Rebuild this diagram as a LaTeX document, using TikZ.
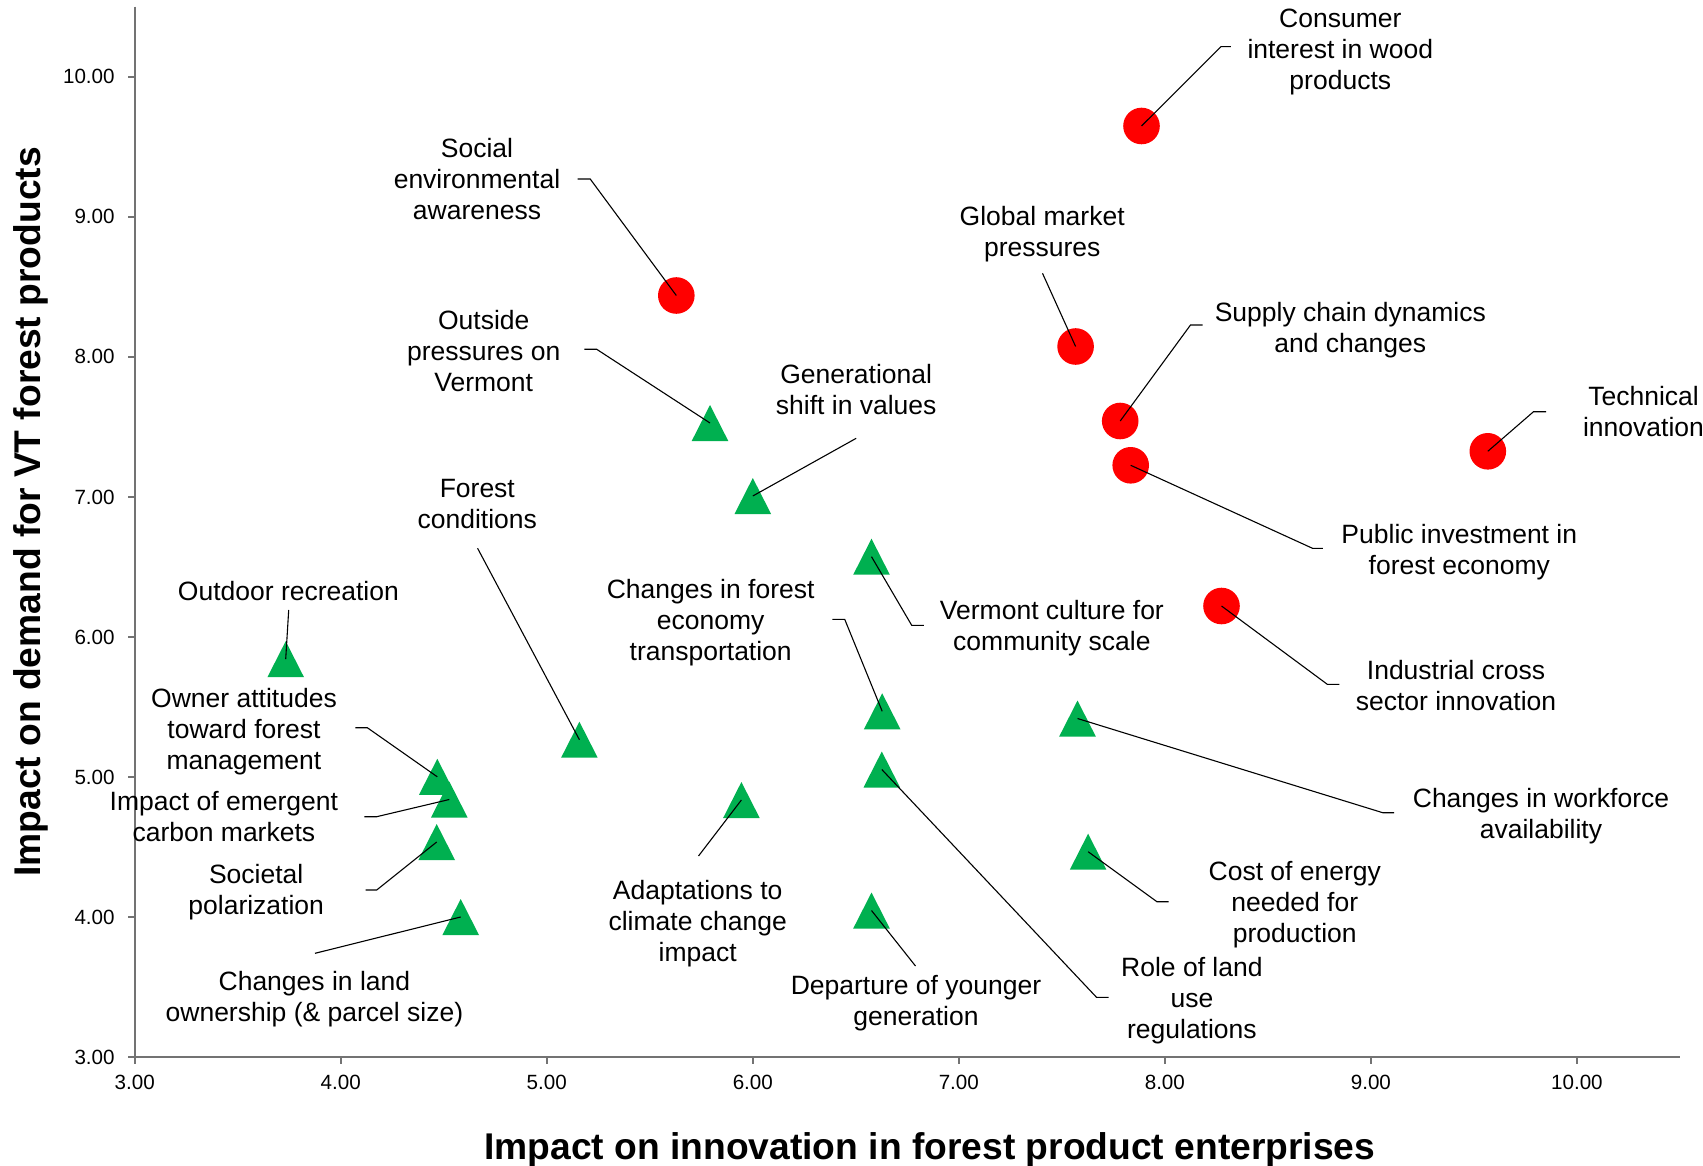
\documentclass[tikz,border=0pt]{standalone}
\usepackage{fontspec}
\setmainfont{Liberation Sans}
\definecolor{tred}{RGB}{255,0,0}
\definecolor{tgreen}{RGB}{0,176,80}
\newcommand\lbl[1]{\begin{tabular}[t]{@{}c@{}}#1\end{tabular}}
\newcommand\redpt[3]{\coordinate (#1) at (#2,#3); \fill[tred] (#1) circle[radius=18.3];}
\newcommand\grnpt[3]{\coordinate (#1) at (#2,#3); \fill[tgreen, shift={(#1)}] (0,-18) -- (-18.3,18) -- (18.3,18) -- cycle;}
\begin{document}
\begin{tikzpicture}[x=0.5pt,y=-0.5pt,
  leader/.style={draw=black, line width=0.55pt},
  axisline/.style={draw=black!55, line width=0.9pt},
  lab/.style={anchor=base, inner sep=0pt, yshift=-0.75pt, font=\fontsize{13.25}{15.5}\selectfont},
  ytick/.style={anchor=east, inner sep=0pt, font=\fontsize{10.3}{12}\selectfont},
  xtick/.style={anchor=base, inner sep=0pt, font=\fontsize{10.3}{12}\selectfont},
  atitle/.style={anchor=base, inner sep=0pt, font=\bfseries\fontsize{18.6}{22}\selectfont}]
\useasboundingbox (0,0) rectangle (1703,1166);
\fill[white] (0,0) rectangle (1703,1166);
% axes
\coordinate (ytop) at (134.7,6.7);
\coordinate (orig) at (134.7,1057.3);
\coordinate (xend) at (1679.6,1057.3);
\draw[axisline] (ytop) -- (orig) -- (xend);
\foreach \v in {3,...,10} {
  \pgfmathsetmacro\yy{1057.3-(\v-3)*140.09}
  \pgfmathsetmacro\xx{134.7+(\v-3)*206.03}
  \draw[axisline] (128.2,\yy) -- (134.7,\yy);
  \draw[axisline] (\xx,1057.3) -- (\xx,1063.5);
  \node[ytick] (yl\v) at (115,\yy) {\v.00};
  \node[xtick] (xl\v) at (\xx,1089.5) {\v.00};
}
\node[atitle] (xtitle) at (929.7,1159) {Impact on innovation in forest product enterprises};
\node[atitle, rotate=90] (ytitle) at (40.5,512) {Impact on demand for VT forest products};
% red circles
\redpt{cA}{1141.5}{126}
\redpt{cB}{676.3}{295.5}
\redpt{cC}{1075.6}{346.5}
\redpt{cD}{1120.2}{421}
\redpt{cE}{1130.7}{465.3}
\redpt{cF}{1487.8}{451.3}
\redpt{cG}{1221.5}{606}
% green triangles
\grnpt{tA}{710}{423}
\grnpt{tB}{752.8}{496}
\grnpt{tC}{871.5}{556.7}
\grnpt{tD}{285.7}{659.2}
\grnpt{tE}{579.4}{739.7}
\grnpt{tF}{882.2}{711.3}
\grnpt{tG}{1077.5}{718.5}
\grnpt{tH}{437.3}{776.8}
\grnpt{tI}{449.3}{799.5}
\grnpt{tJ}{881.8}{769.5}
\grnpt{tK}{741.4}{800}
\grnpt{tL}{436.7}{842}
\grnpt{tM}{1088.1}{851.7}
\grnpt{tN}{460.7}{917}
\grnpt{tO}{871.5}{910.5}
% leader lines
\draw[leader] (cA) -- (1221,46.7) coordinate (cAb) -- (1230.8,46.7) coordinate (cAe);
\draw[leader] (cB) -- (590.2,179) coordinate (cBb) -- (577.6,179) coordinate (cBe);
\draw[leader] (cC) -- (1042.5,273.3) coordinate (cCe);
\draw[leader] (cD) -- (1190.5,325) coordinate (cDb) -- (1202.7,325) coordinate (cDe);
\draw[leader] (cE) -- (1312.5,548.3) coordinate (cEb) -- (1322.8,548.3) coordinate (cEe);
\draw[leader] (cF) -- (1533.5,411.7) coordinate (cFb) -- (1546,411.7) coordinate (cFe);
\draw[leader] (cG) -- (1327.3,684.3) coordinate (cGb) -- (1339.4,684.3) coordinate (cGe);
\draw[leader] (tA) -- (596.7,349.3) coordinate (tAb) -- (584.4,349.3) coordinate (tAe);
\draw[leader] (tB) -- (856.2,438.3) coordinate (tBe);
\draw[leader] (tC) -- (911.7,625.3) coordinate (tCb) -- (923.9,625.3) coordinate (tCe);
\draw[leader] (tD) -- (288.7,610) coordinate (tDe);
\draw[leader] (tE) -- (477.6,548.3) coordinate (tEe);
\draw[leader] (tF) -- (844.7,619.3) coordinate (tFb) -- (832.4,619.3) coordinate (tFe);
\draw[leader] (tG) -- (1382.7,812.7) coordinate (tGb) -- (1394.2,812.7) coordinate (tGe);
\draw[leader] (tH) -- (367.3,727.7) coordinate (tHb) -- (355.3,727.7) coordinate (tHe);
\draw[leader] (tI) -- (376.7,816.7) coordinate (tIb) -- (364.3,816.7) coordinate (tIe);
\draw[leader] (tJ) -- (1096.5,997.3) coordinate (tJb) -- (1108.7,997.3) coordinate (tJe);
\draw[leader] (tK) -- (698.5,856) coordinate (tKe);
\draw[leader] (tL) -- (376.7,890) coordinate (tLb) -- (365.7,890) coordinate (tLe);
\draw[leader] (tM) -- (1156.9,901.7) coordinate (tMb) -- (1168.5,901.7) coordinate (tMe);
\draw[leader] (tN) -- (315,953.3) coordinate (tNe);
\draw[leader] (tO) -- (915.5,966) coordinate (tOe);
% labels
\node[lab] (lA) at (1340.3,26) {\lbl{Consumer\\interest in wood\\products}};
\node[lab] (lB) at (477,156) {\lbl{Social\\environmental\\awareness}};
\node[lab] (lC) at (1042.2,224) {\lbl{Global market\\pressures}};
\node[lab] (lD) at (1350.3,320) {\lbl{Supply chain dynamics\\and changes}};
\node[lab] (lE) at (1459.3,541.7) {\lbl{Public investment in\\forest economy}};
\node[lab] (lF) at (1643.5,404.3) {\lbl{Technical\\innovation}};
\node[lab] (lG) at (1456,678.3) {\lbl{Industrial cross\\sector innovation}};
\node[lab] (lTA) at (483.7,328.3) {\lbl{Outside\\pressures on\\Vermont}};
\node[lab] (lTB) at (856.2,381.7) {\lbl{Generational\\shift in values}};
\node[lab] (lTC) at (1051.9,617.7) {\lbl{Vermont culture for\\community scale}};
\node[lab] (lTD) at (288.4,599) {\lbl{Outdoor recreation}};
\node[lab] (lTE) at (477.3,495.7) {\lbl{Forest\\conditions}};
\node[lab] (lTF) at (710.7,596.7) {\lbl{Changes in forest\\economy\\transportation}};
\node[lab] (lTG) at (1541,806) {\lbl{Changes in workforce\\availability}};
\node[lab] (lTH) at (244,706) {\lbl{Owner attitudes\\toward forest\\management}};
\node[lab] (lTI) at (223.9,809.3) {\lbl{Impact of emergent\\carbon markets}};
\node[lab] (lTJ) at (1191.9,975) {\lbl{Role of land\\use\\regulations}};
\node[lab] (lTK) at (697.7,898.3) {\lbl{Adaptations to\\climate change\\impact}};
\node[lab] (lTL) at (256.2,881.7) {\lbl{Societal\\polarization}};
\node[lab] (lTM) at (1294.8,879.3) {\lbl{Cost of energy\\needed for\\production}};
\node[lab] (lTN) at (314.4,989.3) {\lbl{Changes in land\\ownership (\& parcel size)}};
\node[lab] (lTO) at (916,993.3) {\lbl{Departure of younger\\generation}};
\end{tikzpicture}
\end{document}
